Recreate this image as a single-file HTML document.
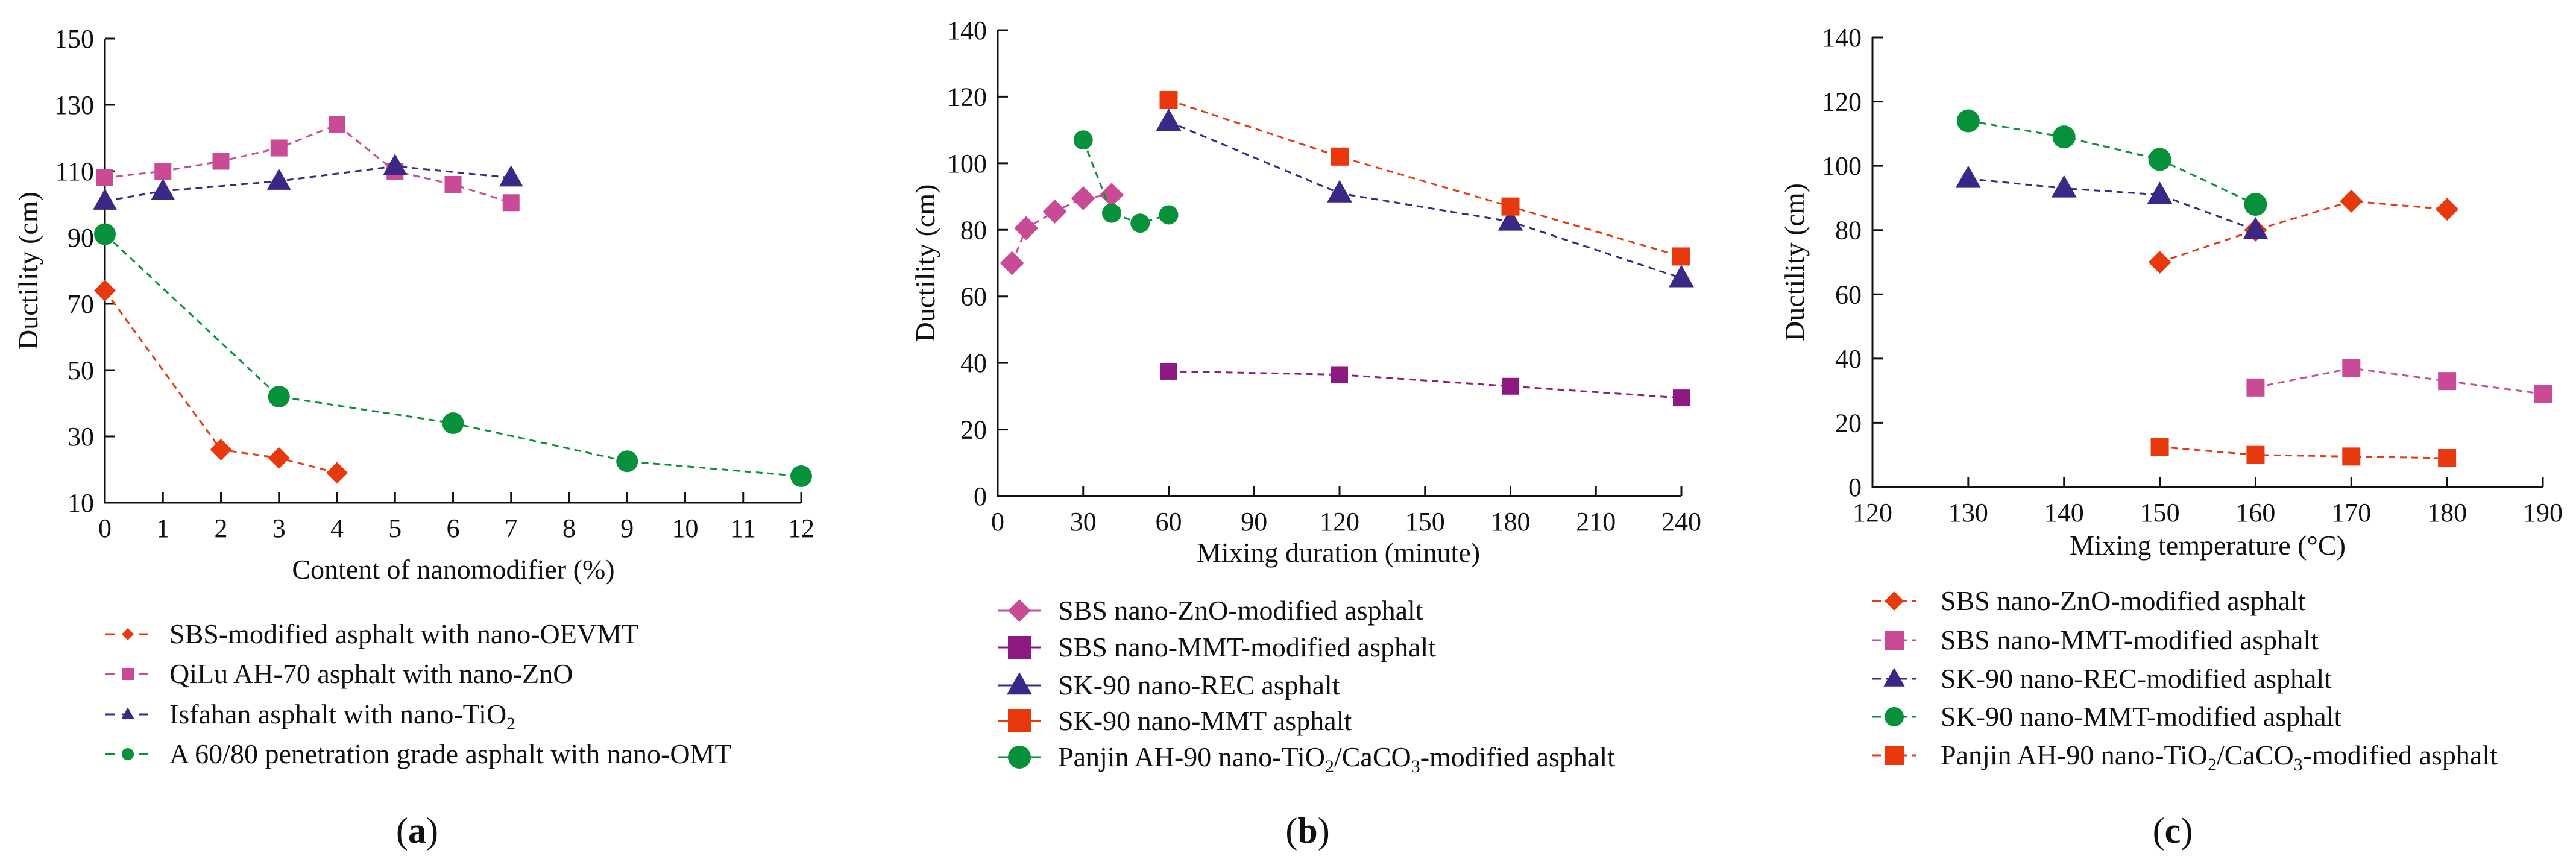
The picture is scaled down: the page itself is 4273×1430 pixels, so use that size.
<!DOCTYPE html>
<html><head><meta charset="utf-8">
<style>
html,body{margin:0;padding:0;background:#fff;}
svg{display:block;font-family:"Liberation Serif",serif;}
</style></head>
<body>
<svg id="chart" width="4273" height="1430" viewBox="0 0 4273 1430" xmlns="http://www.w3.org/2000/svg"></svg>
<script>
// ---------- Panel (a) data ----------
const aXTicks = [0,1,2,3,4,5,6,7,8,9,10,11,12];
const aYTicks = [10,30,50,70,90,110,130,150];
const aOevmtX = [0,2,3,4];
const aOevmtY = [74,26,23.5,19];
const aZnoX = [0,1,2,3,4,5,6,7];
const aZnoY = [108,110,113,117,124,110,106,100.5];
const aTioX = [0,1,3,5,7];
const aTioY = [101,104,107,111.5,108];
const aOmtX = [0,3,6,9,12];
const aOmtY = [91,42,34,22.5,18];
const aLegend = ["SBS-modified asphalt with nano-OEVMT","QiLu AH-70 asphalt with nano-ZnO","Isfahan asphalt with nano-TiO|2|","A 60/80 penetration grade asphalt with nano-OMT"];
// ---------- Panel (b) data ----------
const bXTicks = [0,30,60,90,120,150,180,210,240];
const bYTicks = [0,20,40,60,80,100,120,140];
const bZnoX = [5,10,20,30,40];
const bZnoY = [70,80.5,85.5,89.5,90.5];
const bSbsMmtX = [60,120,180,240];
const bSbsMmtY = [37.5,36.5,33,29.5];
const bRecX = [60,120,180,240];
const bRecY = [112.5,91,82.5,65.5];
const bSkMmtX = [60,120,180,240];
const bSkMmtY = [119,102,87,72];
const bPanjinX = [30,40,50,60];
const bPanjinY = [107,85,82,84.5];
const bLegend = ["SBS nano-ZnO-modified asphalt","SBS nano-MMT-modified asphalt","SK-90 nano-REC asphalt","SK-90 nano-MMT asphalt","Panjin AH-90 nano-TiO|2|/CaCO|3|-modified asphalt"];
// ---------- Panel (c) data ----------
const cXTicks = [120,130,140,150,160,170,180,190];
const cYTicks = [0,20,40,60,80,100,120,140];
const cZnoX = [150,160,170,180];
const cZnoY = [70,80,89,86.5];
const cSbsMmtX = [160,170,180,190];
const cSbsMmtY = [31,37,33,29];
const cRecX = [130,140,150,160];
const cRecY = [96,93,91,80];
const cSkMmtX = [130,140,150,160];
const cSkMmtY = [114,109,102,88];
const cPanjinX = [150,160,170,180];
const cPanjinY = [12.5,10,9.5,9];
const cLegend = ["SBS nano-ZnO-modified asphalt","SBS nano-MMT-modified asphalt","SK-90 nano-REC-modified asphalt","SK-90 nano-MMT-modified asphalt","Panjin AH-90 nano-TiO|2|/CaCO|3|-modified asphalt"];

const RED="#e8380d", PINK="#c94b96", NAVY="#3a2786", GREEN="#06913a", PURPLE="#8c1a80";
const NS="http://www.w3.org/2000/svg";
const svg=document.getElementById('chart');
function mk(tag,attrs,parent){const e=document.createElementNS(NS,tag);for(const k in attrs)e.setAttribute(k,attrs[k]);(parent||svg).appendChild(e);return e;}

function marker(g,shape,cx,cy,s,color){
  let e;
  if(shape==='diamond'){e=mk('polygon',{points:`${cx},${cy-s} ${cx+s},${cy} ${cx},${cy+s} ${cx-s},${cy}`,fill:color},g);}
  else if(shape==='square'){e=mk('rect',{x:cx-s,y:cy-s,width:2*s,height:2*s,fill:color},g);}
  else if(shape==='triangle'){e=mk('polygon',{points:`${cx},${cy-s*1.15} ${cx+s*1.1},${cy+s*0.8} ${cx-s*1.1},${cy+s*0.8}`,fill:color},g);}
  else {e=mk('circle',{cx:cx,cy:cy,r:s,fill:color},g);}
  
  
  return e;
}
function richText(g,str,x,y,size,anchor){
  const t=mk('text',{x:x,y:y,'font-size':size,fill:'#111','text-anchor':anchor||'start'},g);
  const parts=str.split('|');
  parts.forEach((p,i)=>{const ts=mk('tspan',{},t);ts.textContent=p;if(i%2===1){ts.setAttribute('font-size',size*0.65);ts.setAttribute('dy','10');}else if(i>0){ts.setAttribute('dy','-10');}});
  return t;
}

function panel(cfg){
  const g=mk('g',{});
  
  
  const X=v=>cfg.x0+(v-cfg.xmin)/(cfg.xmax-cfg.xmin)*(cfg.x1-cfg.x0);
  const Y=v=>cfg.y0+(v-cfg.ymin)/(cfg.ymax-cfg.ymin)*(cfg.y1-cfg.y0);
  // axes
  const ax=mk('path',{d:`M${cfg.x0},${Y(cfg.ymax)} L${cfg.x0},${cfg.y0} L${X(cfg.xmax)},${cfg.y0}`,stroke:'#111','stroke-width':3,fill:'none'},g);
  
  
  cfg.yt.forEach(v=>{
    mk('line',{x1:cfg.x0,x2:cfg.x0+17,y1:Y(v),y2:Y(v),stroke:'#111','stroke-width':3},g);
    const t=mk('text',{x:cfg.x0-18,y:Y(v)+15,'font-size':44,'text-anchor':'end',fill:'#111'},g);
    t.textContent=v;
    
    
  });
  cfg.xt.forEach(v=>{
    mk('line',{x1:X(v),x2:X(v),y1:cfg.y0,y2:cfg.y0-17,stroke:'#111','stroke-width':3},g);
    const t=mk('text',{x:X(v),y:cfg.y0+57,'font-size':44,'text-anchor':'middle',fill:'#111'},g);
    t.textContent=v;
    
    
  });
  const xt=mk('text',{x:cfg.xtx,y:cfg.xty,'font-size':46,'text-anchor':'middle',fill:'#111'},g);
  xt.textContent=cfg.xtitle;
  
  
  const yc=(cfg.y0+Y(cfg.ymax))/2;
  const yt=mk('text',{x:cfg.ytx,y:yc,'font-size':46,'text-anchor':'middle',fill:'#111',transform:`rotate(-90 ${cfg.ytx} ${yc})`},g);
  yt.textContent='Ductility (cm)';
  
  
  // series
  cfg.series.forEach(s=>{
    const sg=mk('g',{},g);
    
    
    const pts=s.xs.map((x,i)=>X(x)+','+Y(s.ys[i])).join(' ');
    mk('polyline',{points:pts,fill:'none',stroke:s.color,'stroke-width':3,'stroke-dasharray':'11 8'},sg);
    s.xs.forEach((x,i)=>marker(sg,s.shape,X(x),Y(s.ys[i]),s.size,s.color));
  });
  // legend
  cfg.legend.forEach((lab,i)=>{
    const s=cfg.series[cfg.legendOrder[i]];
    const lg=mk('g',{},g);
    
    
    const ly=cfg.legY[i];
    mk('line',{x1:cfg.legX0,x2:cfg.legX1,y1:ly,y2:ly,stroke:s.color,'stroke-width':3,'stroke-dasharray':cfg.legDash},lg);
    marker(lg,s.shape,(cfg.legX0+cfg.legX1)/2,ly,cfg.legSize,s.color);
    richText(lg,lab,cfg.legTX,ly+15,46);
  });
  const lab=mk('text',{x:cfg.labX,y:1398,'font-size':60,'text-anchor':'middle',fill:'#111'},g);
  lab.innerHTML='(<tspan font-weight="bold">'+cfg.letter+'</tspan>)';
  
  
}

panel({name:'panel-a',x0:174,x1:1329,y0:834,y1:64,xmin:0,xmax:12,ymin:10,ymax:150,xt:aXTicks,yt:aYTicks,
  xtitle:'Content of nanomodifier (%)',xtx:752,xty:960,ytx:62,
  series:[
    {key:'oevmt',xs:aOevmtX,ys:aOevmtY,color:RED,shape:'diamond',size:18},
    {key:'zno',xs:aZnoX,ys:aZnoY,color:PINK,shape:'square',size:14},
    {key:'tio2',xs:aTioX,ys:aTioY,color:NAVY,shape:'triangle',size:18},
    {key:'omt',xs:aOmtX,ys:aOmtY,color:GREEN,shape:'circle',size:18}],
  legend:aLegend,legendOrder:[0,1,2,3],legY:[1052,1118,1185,1251],legX0:174,legX1:250,legSize:10,legDash:'16 12',legTX:281,labX:692,letter:'a'});

panel({name:'panel-b',x0:1655,x1:2789,y0:823,y1:50,xmin:0,xmax:240,ymin:0,ymax:140,xt:bXTicks,yt:bYTicks,
  xtitle:'Mixing duration (minute)',xtx:2220,xty:932,ytx:1550,
  series:[
    {key:'sbs-zno',xs:bZnoX,ys:bZnoY,color:PINK,shape:'diamond',size:20},
    {key:'sbs-mmt',xs:bSbsMmtX,ys:bSbsMmtY,color:PURPLE,shape:'square',size:14},
    {key:'sk90-rec',xs:bRecX,ys:bRecY,color:NAVY,shape:'triangle',size:19},
    {key:'sk90-mmt',xs:bSkMmtX,ys:bSkMmtY,color:RED,shape:'square',size:15},
    {key:'panjin',xs:bPanjinX,ys:bPanjinY,color:GREEN,shape:'circle',size:16}],
  legend:bLegend,legendOrder:[0,1,2,3,4],legY:[1013,1074,1137,1196,1256],legX0:1655,legX1:1727,legSize:19,legDash:'40 0',legTX:1755,labX:2169,letter:'b'});

panel({name:'panel-c',x0:3106,x1:4218,y0:808,y1:62,xmin:120,xmax:190,ymin:0,ymax:140,xt:cXTicks,yt:cYTicks,
  xtitle:'Mixing temperature (°C)',xtx:3662,xty:920,ytx:2992,
  series:[
    {key:'sbs-zno',xs:cZnoX,ys:cZnoY,color:RED,shape:'diamond',size:19},
    {key:'sbs-mmt',xs:cSbsMmtX,ys:cSbsMmtY,color:PINK,shape:'square',size:15},
    {key:'sk90-rec',xs:cRecX,ys:cRecY,color:NAVY,shape:'triangle',size:19},
    {key:'sk90-mmt',xs:cSkMmtX,ys:cSkMmtY,color:GREEN,shape:'circle',size:19},
    {key:'panjin',xs:cPanjinX,ys:cPanjinY,color:RED,shape:'square',size:15}],
  legend:cLegend,legendOrder:[0,1,2,3,4],legY:[997,1062,1126,1189,1253],legX0:3106,legX1:3178,legSize:16,legDash:'14 8',legTX:3219,labX:3604,letter:'c'});
</script>
</body></html>
